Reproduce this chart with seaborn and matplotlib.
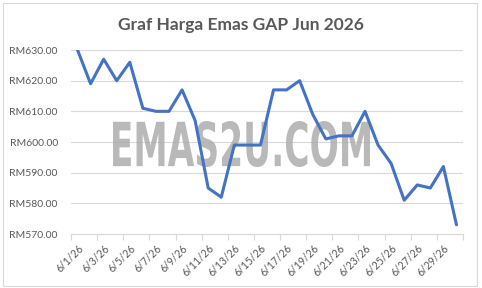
import matplotlib
matplotlib.use("Agg")
import matplotlib.pyplot as plt
import seaborn as sns
import pandas as pd
from matplotlib.textpath import TextPath
from matplotlib.patches import PathPatch, Rectangle
from matplotlib.font_manager import FontProperties
from matplotlib.transforms import Affine2D
from matplotlib.ticker import FixedLocator

dates = ["6/1/26", "6/2/26", "6/3/26", "6/4/26", "6/5/26", "6/6/26", "6/7/26", "6/8/26",
         "6/9/26", "6/10/26", "6/11/26", "6/12/26", "6/13/26", "6/14/26", "6/15/26",
         "6/16/26", "6/17/26", "6/18/26", "6/19/26", "6/20/26", "6/21/26", "6/22/26",
         "6/23/26", "6/24/26", "6/25/26", "6/26/26", "6/27/26", "6/28/26", "6/29/26", "6/30/26"]
prices = [630, 619, 627, 620, 626, 611, 610, 610, 617, 607, 585, 582, 599, 599, 599,
          617, 617, 620, 609, 601, 602, 602, 610, 599, 593, 581, 586, 585, 592, 573]
y_ticks = [570, 580, 590, 600, 610, 620, 630]

sns.set_theme(style="white")
plt.rcParams['font.family'] = ['Lato', 'DejaVu Sans']

W, H = 482, 288
fig = plt.figure(figsize=(W / 100, H / 100), dpi=100)
ax = fig.add_axes([71 / W, 1 - 234 / H, (463 - 71) / W, (234 - 50) / H])

df = pd.DataFrame({"idx": range(len(dates)), "date": dates, "price": prices})
sns.lineplot(data=df, x="idx", y="price", ax=ax, color="#4472C4", linewidth=2.2, zorder=3)

ax.set_xlim(-0.5, len(dates) - 0.5)
ax.set_ylim(570, 630)
ax.set_yticks(y_ticks)
ax.set_yticklabels([f"RM{v:.2f}" for v in y_ticks])
ax.set_xticks(list(range(0, len(dates), 2)))
ax.set_xticklabels(dates[::2], rotation=45, ha="right", rotation_mode="anchor")
ax.xaxis.set_minor_locator(FixedLocator([i - 0.5 for i in range(0, len(dates) + 1, 2)]))
ax.tick_params(axis="x", which="major", length=0, pad=6, labelsize=7.6, colors="#595959")
ax.tick_params(axis="x", which="minor", length=4, width=0.8, color="#d9d9d9", bottom=True)
ax.tick_params(axis="y", length=0, pad=9.5, labelsize=7.5, colors="#595959")
ax.set_xlabel("")
ax.set_ylabel("")
for s in ["top", "right", "left"]:
    ax.spines[s].set_visible(False)
ax.spines["bottom"].set_color("#d9d9d9")
ax.spines["bottom"].set_linewidth(0.8)
ax.yaxis.grid(True, color="#d9d9d9", linewidth=0.8)
ax.set_axisbelow(True)

# watermark
tp = TextPath((0, 0), "EMAS2U.COM", size=1,
              prop=FontProperties(family="DejaVu Sans", weight="bold"))
bb = tp.get_extents()
x0, x1, ytop, ybot = 113, 370, 121, 167
tr = (Affine2D().translate(-bb.x0, -bb.y0)
      .scale((x1 - x0) / bb.width, (ybot - ytop) / bb.height)
      .translate(x0, H - ybot).scale(1 / W, 1 / H) + fig.transFigure)
patch = PathPatch(tp, transform=tr, facecolor="#adadad", edgecolor="none",
                  alpha=0.85, zorder=2, clip_on=False)
ax.add_patch(patch)

fig.text(0.5, 1 - 25 / H, "Graf Harga Emas GAP Jun 2026", ha="center", va="center",
         fontsize=12.5, fontweight="bold", color="#595959")

fig.add_artist(Rectangle((3 / W, 2 / H), 474 / W, 283 / H, transform=fig.transFigure,
                         fill=False, edgecolor="#d9d9d9", linewidth=0.8))

fig.savefig("out.png", dpi=100, facecolor="white")
